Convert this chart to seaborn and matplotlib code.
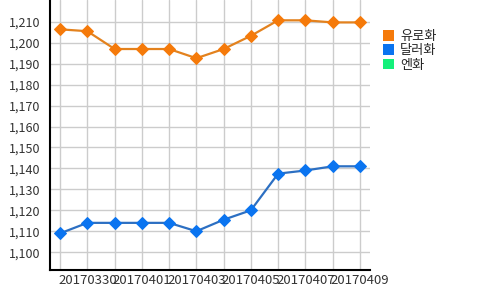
import matplotlib
matplotlib.use("Agg")
import matplotlib.pyplot as plt
import seaborn as sns
import pandas as pd
from matplotlib.patches import Patch

dates = ["20170329", "20170330", "20170331", "20170401", "20170402", "20170403",
         "20170404", "20170405", "20170406", "20170407", "20170408", "20170409"]
euro = [1206.4, 1205.5, 1197.0, 1197.0, 1197.0, 1192.6, 1197.0, 1203.3, 1210.7, 1210.7, 1209.7, 1209.7]
dollar = [1109.0, 1114.0, 1114.0, 1114.0, 1114.0, 1110.0, 1115.5, 1120.0, 1137.5, 1139.0, 1141.0, 1141.0]
yen = []
series_names = ["유로화", "달러화", "엔화"]
y_ticks = list(range(1100, 1211, 10))

sns.set_theme(style="white")
plt.rcParams['font.family'] = ['Noto Sans CJK KR', 'DejaVu Sans']

fig = plt.figure(figsize=(5, 2.9), dpi=100)
ax = fig.add_axes([0.1, 0.069, 0.64, 0.931])

pos = list(range(len(dates)))
df = pd.DataFrame({"pos": pos, "euro": euro, "dollar": dollar})

line_cols = ["#E3821E", "#2C6FC2", "#14F07A"]
mark_cols = ["#F57A0A", "#0A74F0", "#14F07A"]

sns.lineplot(data=df, x="pos", y="euro", ax=ax, color=line_cols[0], linewidth=1.6,
             marker="D", markersize=6.5, markerfacecolor=mark_cols[0],
             markeredgecolor=mark_cols[0], zorder=3)
sns.lineplot(data=df, x="pos", y="dollar", ax=ax, color=line_cols[1], linewidth=1.6,
             marker="D", markersize=6.5, markerfacecolor=mark_cols[1],
             markeredgecolor=mark_cols[1], zorder=3)

ax.set_xlim(-0.37, len(dates) - 1 + 0.37)
ax.set_ylim(1091.5, 1220.4)
ax.set_xticks(pos)
ax.set_xticklabels([d if i % 2 == 1 else "" for i, d in enumerate(dates)])
ax.set_yticks(y_ticks)
ax.set_yticklabels([f"{v:,}" for v in y_ticks])
ax.set_xlabel("")
ax.set_ylabel("")

ax.grid(True, color="#CCCCCC", linewidth=1)
ax.set_axisbelow(True)
for s in ["top", "right"]:
    ax.spines[s].set_visible(False)
for s in ["left", "bottom"]:
    ax.spines[s].set_color("black")
    ax.spines[s].set_linewidth(1.5)

ax.tick_params(axis="both", length=0, colors="#333333")
ax.tick_params(axis="y", labelsize=9, pad=7)
ax.tick_params(axis="x", labelsize=9.5, pad=3)

handles = [Patch(facecolor=c, edgecolor="none") for c in mark_cols]
fig.legend(handles, series_names, loc="upper left", bbox_to_anchor=(0.755, 0.915),
           frameon=False, fontsize=9.5, handlelength=0.85, handleheight=0.85,
           handletextpad=0.45, labelspacing=0.1, borderaxespad=0)

fig.savefig("out.png", dpi=100)
